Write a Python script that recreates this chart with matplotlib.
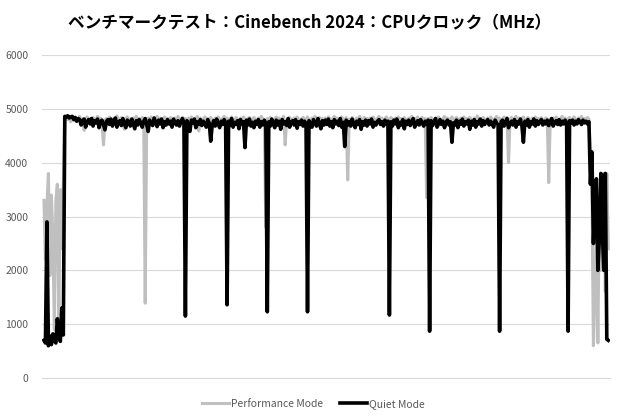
import numpy as np
import matplotlib
matplotlib.use("Agg")
import matplotlib.pyplot as plt

plt.rcParams['font.family'] = ['Noto Sans CJK JP', 'DejaVu Sans']

TITLE = "ベンチマークテスト：Cinebench 2024：CPUクロック（MHz）"
SERIES_NAMES = ["Performance Mode", "Quiet Mode"]
Y_TICKS = [0, 1000, 2000, 3000, 4000, 5000, 6000]

# ---- Performance Mode (MHz), one value per sample ----
perf_start = [3300, 2200, 3200, 3800, 1900, 3400, 2600, 900, 3300, 3600, 1000, 3500, 2400, 3600]
perf_p1 = [4820, 4870, 4800, 4850, 4760, 4830, 4790, 4840, 4780, 4810,
           4860, 4770, 4820, 4600, 4800, 4850, 4760, 4820, 4790, 4840,
           4770, 4810, 4860, 4780, 4830, 4750]
perf_p2 = [4800, 4820, 4780, 4850, 4800, 4760, 4830, 4790, 4870, 4810,
           4770, 4840, 4800, 4620, 4820, 4850, 4790, 4810, 4740, 4830,
           4800, 4860, 4780, 4820, 4770, 4840, 4800]
perf_p3 = [4750, 4830, 4790, 4850, 4810, 4770, 4820, 4860, 4790, 4830,
           4760, 4810, 4850, 4800, 4820, 4780, 4840, 4800, 4760, 4830,
           4790, 4860, 4810, 4770, 4840, 4800, 4820, 4750, 4830, 4790,
           4850, 4810, 4770, 4820, 4860, 4590, 4830, 4760, 4810, 4850,
           4800, 4820, 4780, 4840, 4800, 4760, 4830, 4790, 4850, 4810,
           4770, 4820, 4860, 4790, 4830, 4760, 4810, 4850, 4800, 4780,
           4840, 4810, 4760, 4830, 4790, 4850, 4800, 4770, 4820, 4840,
           4810, 4780, 4840, 4800, 4760, 4830, 4790, 4860, 4810, 4770]
perf_p4 = [4820, 4780, 4840, 4800, 4760, 4810, 4850, 4790, 4830, 4770, 4820, 4860]
perf_p5 = [4800, 4780, 4840, 4810, 4760, 4830, 4790, 4850, 4800, 4770,
           4820, 4840, 4810, 4780, 4850, 4800, 4760, 4830, 4790, 4860,
           4810, 4770, 4840, 4800, 4820, 4750, 4830, 4790, 4850, 4810,
           4770, 4820, 4860, 4790, 4830, 4760, 4810, 4850, 4800, 4780,
           4840]
perf_p6 = [4810, 4780, 4840, 4800, 4760, 4830, 4790, 4860, 4810, 4770,
           4840, 4800, 4820, 4750, 4830, 4790, 4850, 4810, 4770, 4820,
           4860, 4790, 4830, 4760, 4810, 4850, 4800, 4780, 4840, 4810,
           4770, 4830, 4790, 4850, 4800, 4820, 4760, 4840, 4800, 4780,
           4830, 4790, 4860, 4810, 4770, 4820, 4850, 4790, 4810, 4840,
           4780, 4820]
perf_p7 = [4820, 4780, 4840, 4800, 4760, 4830, 4790, 4850, 4810, 4770,
           4820, 4860, 4790, 4830, 4760, 4810, 4850, 4800, 4780, 4840,
           4810, 4770, 4830, 4790, 4850, 4800, 4820, 4760, 4840, 4810,
           4780, 4830, 4790, 4870, 4810, 4770, 4820, 4840, 4800, 4760,
           4830, 4790, 4850, 4810, 4780, 4820, 4860, 4790, 4830, 4770,
           4810, 4850, 4800, 4840]
perf_p8 = [4800, 4840, 4770, 4820, 4860, 4790, 4830, 4760, 4810, 4850,
           4800, 4780, 4840, 4810, 4770, 4830, 4790, 4850, 4800, 4820,
           4760, 4840, 4800, 4780, 4830, 4810]
perf_p9 = [4810, 4770, 4830, 4790, 4850, 4800, 4760, 4820, 4860, 4790,
           4830, 4770, 4810, 4840, 4800, 4780, 4850, 4810, 4770, 4830,
           4790, 4860, 4800, 4820, 4780, 4840, 4810]
perf_end = [4200, 3500, 600, 1500, 2900, 650, 3300, 2000, 3000, 3800, 1600, 3800, 2400]

perf = (perf_start + perf_p1 + [4330] + perf_p2 + [1390] + perf_p3 + [2800]
        + perf_p4 + [4330] + perf_p5 + [3680] + perf_p6 + [3350] + perf_p7
        + [4000] + perf_p8 + [3630] + perf_p9 + perf_end)

# ---- Quiet Mode (MHz) ----
quiet_start = [700, 650, 2900, 600, 780, 620, 820, 700, 650, 1100, 760, 680, 1300, 800]
quiet_p1 = [4860, 4850, 4870, 4830, 4850, 4860, 4800, 4840, 4770, 4820,
            4800, 4700, 4780, 4810, 4660, 4760, 4800, 4720, 4820, 4680,
            4780, 4740, 4810, 4650, 4760, 4790, 4700, 4610, 4770, 4800,
            4710, 4810, 4680, 4760, 4830, 4660, 4750, 4780, 4690, 4820,
            4720, 4650, 4790, 4760, 4680, 4810, 4720, 4630, 4780, 4700,
            4800, 4740, 4660, 4770, 4820, 4710, 4580, 4790, 4740, 4690,
            4830, 4750, 4670, 4790, 4720, 4810, 4650, 4760, 4700, 4800,
            4720, 4770, 4660, 4810, 4740, 4700, 4780, 4680, 4760, 4820,
            4740]
quiet_p2 = [4780, 4700, 4580, 4790, 4740, 4810, 4650, 4760, 4710, 4800,
            4690, 4770, 4720, 4660, 4800, 4740, 4400, 4700, 4780, 4680,
            4810, 4720, 4650, 4770, 4710, 4800, 4750]
quiet_p3 = [4770, 4690, 4820, 4660, 4750, 4710, 4780, 4630, 4800, 4720,
            4760, 4280, 4790, 4700, 4810, 4680, 4750, 4650, 4770, 4710,
            4800, 4660, 4760, 4700, 4790, 4730]
quiet_p4 = [4760, 4680, 4810, 4720, 4650, 4790, 4700, 4770, 4620, 4800,
            4720, 4760, 4690, 4820, 4660, 4750, 4780, 4700, 4800, 4640,
            4760, 4710, 4790, 4680, 4770, 4730]
quiet_p5 = [4780, 4700, 4660, 4800, 4740, 4680, 4820, 4720, 4630, 4780,
            4700, 4790, 4710, 4810, 4680, 4760, 4650, 4800, 4720, 4770,
            4690, 4820, 4660, 4750, 4300, 4790, 4700, 4760, 4680, 4810,
            4720, 4650, 4770, 4710, 4800, 4620, 4760, 4700, 4790, 4680,
            4780, 4720, 4810, 4660, 4750, 4700, 4770, 4800, 4710, 4760,
            4680, 4790, 4720, 4770]
quiet_p6 = [4760, 4680, 4790, 4720, 4810, 4650, 4750, 4700, 4800, 4630,
            4770, 4710, 4790, 4690, 4760, 4820, 4660, 4720, 4780, 4700,
            4800, 4740, 4680, 4770, 4720, 4790]
quiet_p7 = [4780, 4690, 4760, 4820, 4660, 4720, 4800, 4710, 4770, 4650,
            4750, 4790, 4700, 4760, 4380, 4740, 4700, 4790, 4650, 4770,
            4710, 4810, 4680, 4760, 4720, 4790, 4620, 4770, 4700, 4800,
            4660, 4760, 4720, 4810, 4680, 4780, 4710, 4760, 4800, 4700,
            4770, 4720, 4660, 4790, 4740, 4700]
quiet_p8 = [4760, 4790, 4680, 4750, 4820, 4650, 4720, 4770, 4700, 4800,
            4660, 4760, 4720, 4810, 4680, 4380, 4770, 4700, 4800, 4660,
            4760, 4720, 4810, 4680, 4780, 4710, 4760, 4800, 4700, 4770,
            4720, 4790, 4690, 4760, 4820, 4680, 4750, 4780, 4710, 4800,
            4700, 4770, 4720, 4790, 4740]
quiet_p9 = [4780, 4740, 4790, 4700, 4770, 4720, 4800, 4760, 4710, 4790, 4740, 4770, 4720, 4760]
quiet_end = [3600, 4200, 2500, 3300, 3700, 2000, 2600, 3800, 2700, 2000, 3800, 720, 700]

quiet = (quiet_start + quiet_p1 + [1150] + quiet_p2 + [1360] + quiet_p3 + [1230]
         + quiet_p4 + [1230] + quiet_p5 + [1170] + quiet_p6 + [870] + quiet_p7
         + [870] + quiet_p8 + [870] + quiet_p9 + quiet_end)

fig = plt.figure(figsize=(6.2, 4.2), dpi=100)
ax = fig.add_axes([0.068, 0.1, 0.916, 0.769])

ax.plot(np.arange(len(perf)), perf, color='#bfbfbf', linewidth=2.2, label=SERIES_NAMES[0])
ax.plot(np.arange(len(quiet)), quiet, color='black', linewidth=2.6, label=SERIES_NAMES[1])

n = max(len(perf), len(quiet))
ax.set_xlim(-1.2, n - 1 + 1.2)
ax.set_ylim(0, 6000)
ax.set_yticks(Y_TICKS)
ax.set_yticklabels([str(v) for v in Y_TICKS], fontsize=7.5, color='#595959')
ax.set_xticks([])
ax.tick_params(axis='y', length=0, pad=10)
ax.grid(axis='y', color='#d9d9d9', linewidth=0.8)
ax.set_axisbelow(True)
for side in ['top', 'right', 'left']:
    ax.spines[side].set_visible(False)
ax.spines['bottom'].set_color('#d9d9d9')
ax.spines['bottom'].set_linewidth(0.8)

fig.text(0.5, 0.945, TITLE, ha='center', va='center', fontsize=12, fontweight='bold')

fig.legend(loc='center', bbox_to_anchor=(0.505, 0.038), ncol=2, frameon=False,
           fontsize=7.5, labelcolor='#595959', handlelength=2.6, handletextpad=0.2,
           columnspacing=1.6)

fig.savefig('out.png', dpi=100)
